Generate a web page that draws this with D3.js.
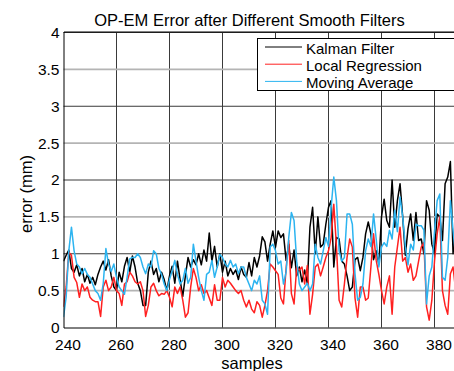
<!DOCTYPE html>
<html>
<head>
<meta charset="utf-8">
<script src="https://cdn.jsdelivr.net/npm/d3@7"></script>
<style>
    body { margin: 0; background: #fff; }
    svg { display: block; font-family: "Liberation Sans", Arial, sans-serif; }
</style>
</head>
<body>
<svg class="chart" width="454" height="371"></svg>
<script>
// sample index of the first value, one value per sample after it
let first_sample = 240

let kalman = [0.9,
    0.98, 1.05, 0.80, 0.75, 0.85, 0.70, 0.80, 0.62, 0.72, 0.60,
    0.68, 0.58, 0.72, 0.82, 0.90, 0.78, 0.92, 0.70, 0.55, 0.50,
    0.75, 0.62, 0.83, 0.95, 0.75, 0.97, 0.82, 0.60, 0.50, 0.30,
    0.30, 0.75, 0.90, 0.72, 0.80, 0.62, 0.75, 0.65, 0.50, 0.70,
    0.83, 0.60, 0.90, 0.65, 0.42, 0.70, 0.95, 0.82, 0.92, 0.85,
    1.00, 0.85, 1.05, 0.90, 1.28, 0.90, 1.10, 0.82, 1.00, 0.75,
    0.90, 0.70, 0.80, 0.72, 0.78, 0.65, 0.82, 0.72, 0.68, 0.88,
    0.70, 0.95, 0.82,
    0.97, 1.23, 1.16, 0.90, 1.13, 1.31, 1.09, 1.31, 1.22, 1.27, 0.91, 1.13,
    0.81, 1.05, 0.70, 0.82, 0.62, 0.78, 0.60, 1.36, 1.63, 1.00, 1.50, 1.09,
    1.13, 1.40, 1.63, 1.72, 0.82, 1.22, 1.20, 0.90, 0.86, 0.70, 0.50, 0.55,
    0.92, 0.95, 0.77, 0.95, 1.27, 1.43, 1.27, 0.92, 1.04, 0.86,
    1.50, 1.74, 1.45, 1.36, 2.00, 1.36, 1.72, 1.95, 1.50, 0.98,
    1.34, 1.54, 1.18, 1.56, 1.18, 1.20, 1.00, 1.72, 1.59, 1.13,
    1.00, 1.54, 1.50, 1.18, 1.95, 2.04, 2.25, 1.00, 1.45]

let local_regression = [0.28,
    0.55, 1.02, 0.98, 0.68, 0.61, 0.41, 0.59, 0.50, 0.55, 0.41,
    0.37, 0.35, 0.35, 0.15, 0.55, 0.64, 0.50, 0.55, 0.68, 0.50,
    0.46, 0.30, 0.59, 0.62, 0.75, 0.70, 0.62, 0.59, 0.62, 0.50,
    0.15, 0.30, 0.55, 0.60, 0.50, 0.43,
    0.46, 0.45, 0.50, 0.41, 0.28, 0.55, 0.46, 0.55, 0.37, 0.14,
    0.20, 0.55, 0.80, 0.68, 0.50, 0.58, 0.46, 0.50, 0.40, 0.30,
    0.58, 0.37, 0.37, 0.68, 0.55, 0.64, 0.60, 0.55, 0.50, 0.46,
    0.50, 0.37, 0.28, 0.37, 0.25, 0.20, 0.35,
    0.30, 0.14, 0.30, 0.50, 0.86, 0.82, 0.77, 0.72, 0.40, 0.32, 0.80, 1.18,
    0.46, 0.32, 0.82, 0.78, 0.82, 0.59, 0.84, 0.18, 0.45, 0.82, 0.86, 0.70,
    0.82, 0.95, 1.04, 1.22, 1.67, 1.10, 0.37, 0.28, 0.59, 0.95, 1.20, 1.09,
    0.40, 0.14, 0.55, 0.55, 0.37, 0.40, 0.82, 1.27, 0.91, 0.72,
    0.50, 0.32, 0.55, 0.70, 0.18, 0.82, 1.09, 1.36, 0.90, 0.95,
    0.75, 0.86, 0.64, 0.70, 0.90, 1.09, 1.15, 0.28, 0.10, 0.37,
    0.90, 1.27, 1.50, 0.50, 0.30, 0.18, 0.73, 0.82, 0.50]

let moving_average = [0.14,
    0.41, 1.04, 1.36, 1.04, 0.86, 0.82, 0.73, 0.80, 0.72, 0.68,
    0.59, 0.50, 0.46, 0.37, 0.60, 1.07, 0.86, 0.76, 0.86, 0.68,
    0.55, 0.50, 0.45, 0.68, 0.93, 0.95, 0.95, 1.00, 0.95, 0.82,
    0.73, 0.86, 0.82, 1.04, 1.00, 0.80, 0.72,
    0.59, 0.50, 0.65, 0.77, 0.91, 0.72, 0.59, 0.64, 0.80, 0.60,
    0.68, 1.13, 0.90, 0.68, 0.50, 0.37, 0.72, 0.75, 0.91, 0.68,
    0.82, 0.99, 0.95, 0.86, 0.82, 0.91, 0.82, 0.86, 0.73, 0.82,
    0.82, 0.68, 0.59, 0.50, 0.64, 0.59, 0.70,
    0.37, 0.32, 0.18, 1.09, 1.13, 1.04, 0.86, 0.90, 0.59, 0.75, 1.22, 1.56,
    1.45, 0.90, 0.59, 0.50, 0.55, 0.60, 0.50, 0.59, 1.13, 0.95, 0.86, 1.04,
    1.22, 1.10, 1.63, 2.04, 1.72, 1.04, 0.90, 0.95, 1.54, 1.54, 1.40, 0.73,
    0.37, 0.41, 0.59, 1.04, 1.20, 1.10, 1.54, 1.20, 0.82, 1.09,
    1.15, 1.10, 1.32, 1.20, 1.59, 1.30, 1.77, 1.50, 1.10, 0.85,
    1.13, 1.05, 1.40, 1.38, 1.38, 1.32, 0.32, 0.70, 0.82, 1.30,
    1.72, 1.81, 0.68, 0.64, 0.95, 1.72, 1.32, 0.95]

let series_names = ["Kalman Filter", "Local Regression", "Moving Average"]
let series_colors = ["#000000", "#ff2020", "#2cb4f0"]

let x_ticks = [240, 260, 280, 300, 320, 340, 360, 380]
let y_ticks = [0, 0.5, 1, 1.5, 2, 2.5, 3, 3.5, 4]

let title_text = "OP-EM Error after Different Smooth Filters"
let x_label = "samples"
let y_label = "error (mm)"

let width = 454
let height = 371

let x = d3.scaleLinear().domain([240, 390]).range([63.5, 461])
let y = d3.scaleLinear().domain([0, 4]).range([327.5, 32.5])

let svg = d3.select(".chart")

function draw_grid() {
    let grid = svg.append("g").attr("class", "grid")

    grid.selectAll("line.vgrid")
        .data(x_ticks.slice(1))
        .enter().append("line")
        .attr("x1", d => Math.round(x(d)) - 0.5)
        .attr("x2", d => Math.round(x(d)) - 0.5)
        .attr("y1", y(4))
        .attr("y2", y(0))
        .attr("stroke", "#3a3a3a")
        .attr("stroke-width", 1)

    grid.selectAll("line.hgrid")
        .data(y_ticks.slice(1))
        .enter().append("line")
        .attr("x1", x(240))
        .attr("x2", width)
        .attr("y1", d => y(d))
        .attr("y2", d => y(d))
        .attr("stroke", d => d % 1 === 0 ? "#3a3a3a" : "#b4b4b4")
        .attr("stroke-width", d => d % 1 === 0 ? 1 : 1.6)
}

function draw_lines() {
    svg.append("clipPath").attr("id", "plot_clip")
        .append("rect")
        .attr("x", x(240)).attr("y", y(4))
        .attr("width", width - x(240)).attr("height", y(0) - y(4))

    let line = d3.line()
        .x((d, i) => x(first_sample + i))
        .y(d => y(d))

    let all_series = [kalman, local_regression, moving_average]

    svg.append("g")
        .attr("clip-path", "url(#plot_clip)")
        .selectAll("path")
        .data(all_series)
        .enter().append("path")
        .attr("d", line)
        .attr("fill", "none")
        .attr("stroke", (d, i) => series_colors[i])
        .attr("stroke-width", 1.5)
        .attr("stroke-linejoin", "round")
}

function draw_axes() {
    let x_axis = d3.axisBottom(x)
        .tickValues(x_ticks)
        .tickSize(0)
        .tickPadding(11)
        .tickFormat(d3.format("d"))

    let gx = svg.append("g")
        .attr("transform", "translate(0," + y(0) + ")")
        .call(x_axis)
    gx.select(".domain").remove()
    gx.selectAll("text")
        .attr("dx", 4)
        .attr("fill", "#000")
        .style("font-size", "15.5px")
        .style("font-family", "Liberation Sans, Arial, sans-serif")

    let y_axis = d3.axisLeft(y)
        .tickValues(y_ticks)
        .tickSize(0)
        .tickPadding(4)
        .tickFormat(d => d3.format("")(d))

    let gy = svg.append("g")
        .attr("transform", "translate(" + x(240) + ",0)")
        .call(y_axis)
    gy.select(".domain").remove()
    gy.selectAll("text")
        .attr("fill", "#000")
        .style("font-size", "15.5px")
        .style("font-family", "Liberation Sans, Arial, sans-serif")

    // axes box: left, bottom and top edges (right edge is cut off)
    svg.append("path")
        .attr("d", "M" + width + "," + (y(4) - 0.5) + "H" + (x(240) + 0.5) +
            "V" + (y(0) + 0.5) + "H" + width)
        .attr("fill", "none")
        .attr("stroke", "#000")
        .attr("stroke-width", 1)
}

function draw_labels() {
    svg.append("text")
        .attr("x", 249.5)
        .attr("y", 25.5)
        .attr("text-anchor", "middle")
        .style("font-size", "16.5px")
        .text(title_text)

    svg.append("text")
        .attr("x", 252)
        .attr("y", 368.5)
        .attr("text-anchor", "middle")
        .style("font-size", "16.5px")
        .text(x_label)

    svg.append("text")
        .attr("transform", "translate(31.5,194) rotate(-90)")
        .attr("text-anchor", "middle")
        .style("font-size", "16.5px")
        .text(y_label)
}

function draw_legend() {
    let legend = svg.append("g").attr("class", "legend")

    legend.append("rect")
        .attr("x", 257.5)
        .attr("y", 38.5)
        .attr("width", 220)
        .attr("height", 52)
        .attr("fill", "#fff")
        .attr("stroke", "#000")

    let rows = legend.selectAll("g.row")
        .data(series_names)
        .enter().append("g")
        .classed("row", true)
        .attr("transform", (d, i) => "translate(0," + (47 + i * 17.2) + ")")

    rows.append("line")
        .attr("x1", 265)
        .attr("x2", 302)
        .attr("y1", 0)
        .attr("y2", 0)
        .attr("stroke", (d, i) => series_colors[i])
        .attr("stroke-width", 1)

    rows.append("text")
        .attr("x", 306)
        .attr("y", 6.5)
        .style("font-size", "15px")
        .text(d => d)
}

draw_grid()
draw_lines()
draw_axes()
draw_labels()
draw_legend()
</script>
</body>
</html>
